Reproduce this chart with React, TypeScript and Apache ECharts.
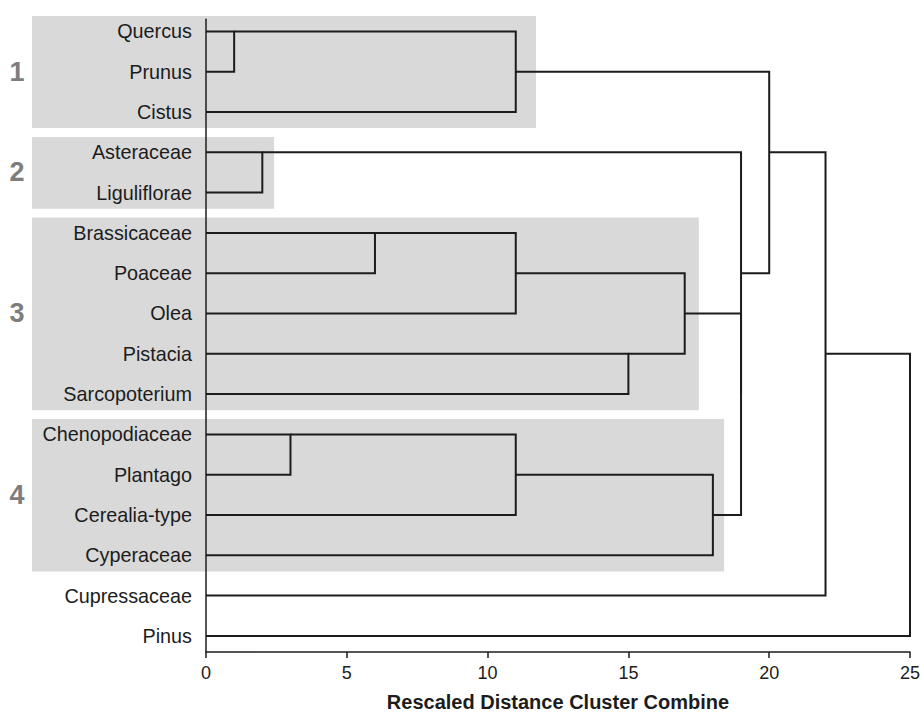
import React, { useEffect, useRef } from "react";
import * as echarts from "echarts";

// Leaves (top to bottom)
const leaves: string[] = [
  "Quercus", "Prunus", "Cistus", "Asteraceae", "Liguliflorae",
  "Brassicaceae", "Poaceae", "Olea", "Pistacia", "Sarcopoterium",
  "Chenopodiaceae", "Plantago", "Cerealia-type", "Cyperaceae",
  "Cupressaceae", "Pinus",
];

// Merge table: ids 0..15 are leaves, merge k creates cluster id 16+k
const mergeLeft: number[] = [0, 3, 10, 5, 16, 19, 18, 8, 21, 22, 24, 17, 20, 28, 29];
const mergeRight: number[] = [1, 4, 11, 6, 2, 7, 12, 9, 23, 13, 25, 26, 27, 14, 15];
const mergeDistance: number[] = [1, 2, 3, 6, 11, 11, 11, 15, 17, 18, 19, 19, 20, 22, 25];

// Highlighted groups: first leaf row, last leaf row, right extent (distance units)
const groupNames: string[] = ["1", "2", "3", "4"];
const groupFirst: number[] = [0, 3, 5, 10];
const groupLast: number[] = [2, 4, 9, 13];
const groupRight: number[] = [11.72, 2.42, 17.5, 18.4];

const xTicks = { min: 0, max: 25, interval: 5 };

const FONT = "'Liberation Sans', Arial, Helvetica, sans-serif";
const INK = "#1c1c1c";

export default function App() {
  const ref = useRef<HTMLDivElement>(null);

  useEffect(() => {
    document.body.style.margin = "0";
    if (!ref.current) return;
    const chart = echarts.init(ref.current, null, { renderer: "svg" });

    // compute node positions (row, x) for leaves and clusters
    const nodeRow: number[] = leaves.map((_, i) => i);
    const nodeX: number[] = leaves.map(() => 0);
    const mergeData: number[][] = [];
    for (let k = 0; k < mergeDistance.length; k++) {
      const a = mergeLeft[k];
      const b = mergeRight[k];
      const d = mergeDistance[k];
      mergeData.push([nodeX[a], nodeRow[a], d, nodeRow[b], nodeX[b]]);
      nodeRow.push(Math.floor((nodeRow[a] + nodeRow[b]) / 2));
      nodeX.push(d);
    }

    const groupData = groupNames.map((n, i) => [groupFirst[i], groupLast[i], groupRight[i], i]);
    const leafData = leaves.map((n, i) => [0, i]);

    chart.setOption({
      animation: false,
      grid: {
        left: 206,
        right: 11,
        top: 19.3,
        bottom: 61,
        containLabel: false,
        outerBoundsMode: "none",
      },
      xAxis: {
        type: "value",
        position: "bottom",
        min: xTicks.min,
        max: xTicks.max,
        interval: xTicks.interval,
        z: 5,
        axisLine: { show: true, onZero: false, lineStyle: { color: INK, width: 1.5 } },
        axisTick: { show: true, length: 6, inside: false, lineStyle: { color: INK, width: 1.5 } },
        splitLine: { show: false },
        axisLabel: { fontSize: 18, color: INK, fontFamily: FONT, margin: 12 },
        name: "Rescaled Distance Cluster Combine",
        nameLocation: "middle",
        nameGap: 40,
        nameTextStyle: {
          fontSize: 20,
          lineHeight: 20,
          fontWeight: "bold",
          color: INK,
          fontFamily: FONT,
        },
      },
      yAxis: {
        type: "value",
        inverse: true,
        min: -0.3,
        max: 15.4,
        interval: 0.1,
        z: 5,
        axisLine: { show: true, onZero: false, lineStyle: { color: INK, width: 1.5 } },
        axisTick: { show: false },
        axisLabel: { show: false },
        splitLine: { show: false },
      },
      series: [
        {
          type: "custom",
          z: 1,
          clip: false,
          silent: true,
          data: groupData,
          renderItem: (params: any, api: any) => {
            const first = api.value(0);
            const last = api.value(1);
            const right = api.value(2);
            const idx = api.value(3);
            const pTop = api.coord([right, first - 0.38]);
            const pBot = api.coord([right, last + 0.4]);
            const origin = api.coord([0, (first + last) / 2]);
            const left = origin[0] - 174;
            return {
              type: "group",
              children: [
                {
                  type: "rect",
                  shape: { x: left, y: pTop[1], width: pTop[0] - left, height: pBot[1] - pTop[1] },
                  style: { fill: "#d9d9d9" },
                },
                {
                  type: "text",
                  x: origin[0] - 189,
                  y: origin[1],
                  style: {
                    text: groupNames[idx],
                    fontSize: 27,
                    fontWeight: "bold",
                    fontFamily: FONT,
                    fill: "#7d7d7d",
                    align: "center",
                    verticalAlign: "middle",
                  },
                },
              ],
            };
          },
        },
        {
          type: "custom",
          z: 3,
          clip: false,
          silent: true,
          data: mergeData,
          renderItem: (params: any, api: any) => {
            const p1 = api.coord([api.value(0), api.value(1)]);
            const p2 = api.coord([api.value(2), api.value(1)]);
            const p3 = api.coord([api.value(2), api.value(3)]);
            const p4 = api.coord([api.value(4), api.value(3)]);
            return {
              type: "polyline",
              shape: { points: [p1, p2, p3, p4] },
              style: { stroke: INK, lineWidth: 2, fill: null },
            };
          },
        },
        {
          type: "custom",
          z: 4,
          clip: false,
          silent: true,
          data: leafData,
          renderItem: (params: any, api: any) => {
            const p = api.coord([api.value(0), api.value(1)]);
            return {
              type: "text",
              x: p[0] - 14,
              y: p[1],
              style: {
                text: leaves[params.dataIndex],
                fontSize: 19.8,
                fontFamily: FONT,
                fill: INK,
                align: "right",
                verticalAlign: "middle",
              },
            };
          },
        },
      ],
    });

    return () => chart.dispose();
  }, []);

  return <div ref={ref} style={{ width: 921, height: 713 }} />;
}
